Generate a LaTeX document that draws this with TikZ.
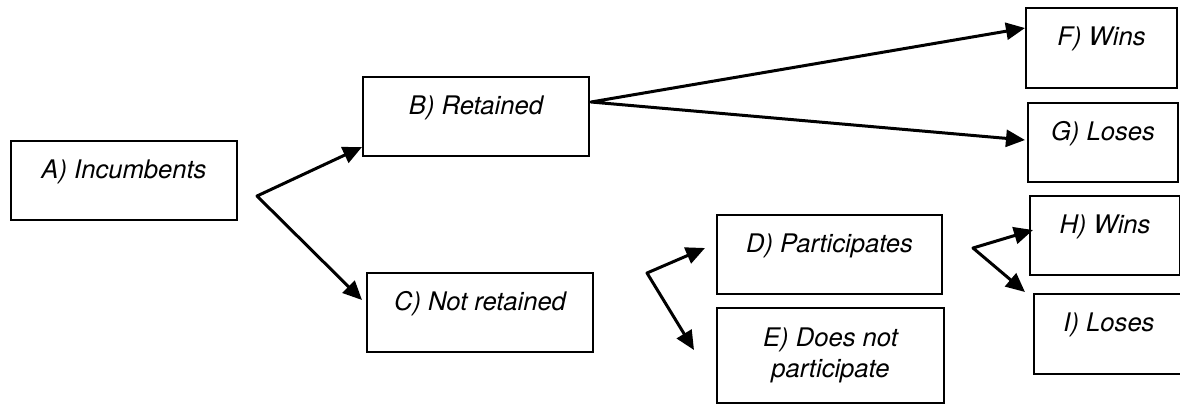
\documentclass[tikz,border=0pt]{standalone}
\usepackage{fontspec}
\setmainfont{TeX Gyre Heros}
\usetikzlibrary{arrows.meta}
\begin{document}
\begin{tikzpicture}[x=0.5pt,y=-0.5pt,
  box/.style={draw=black, line width=1pt, rectangle, inner sep=0pt, anchor=north west,
    font=\fontsize{12.8}{15.5}\selectfont\itshape, text height=18.5pt, text depth=21pt,
    minimum width=113pt},
  fork/.style={line width=1.5pt, line join=round,
    {Triangle[length=9.5pt,width=8.5pt]}-{Triangle[length=9.5pt,width=8.5pt]}}]
\useasboundingbox (0,0) rectangle (1180,404);
% boxes
\node[box] (A) at (10,140) {A) Incumbents};
\node[box] (B) at (362,76) {B) Retained};
\node[box] (C) at (366,272) {C) Not retained};
\node[box, minimum width=112.5pt] (D) at (716,214) {D) Participates};
\node[box, minimum width=113.5pt, text height=19pt, text depth=28.5pt] (E) at (716,307)
  {\begin{tabular}[t]{@{}c@{}}E) Does not\\participate\end{tabular}};
\node[box, minimum width=75.5pt, text depth=21.5pt] (F) at (1025,7) {F) Wins};
\node[box, minimum width=75pt] (G) at (1027,102) {G) Loses};
\node[box, minimum width=75pt] (H) at (1029,195) {H) Wins};
\node[box, minimum width=75pt, text depth=21.5pt] (I) at (1033,293) {I) Loses};
% fork points
\coordinate (ja) at (257,196);
\coordinate (jb) at (591,102);
\coordinate (jc) at (647,273);
\coordinate (jd) at (973,248);
% connectors
\draw[fork] ([shift={(0,-10)}]B.south west) -- (ja) -- ([shift={(-4,28)}]C.north west);
\draw[fork] ([shift={(0,21)}]F.north west) -- (jb) -- ([shift={(-2,38)}]G.north west);
\draw[fork] ([shift={(-11,34)}]D.north west) -- (jc) -- ([shift={(-22,43)}]E.north west);
\draw[fork] ([shift={(4,35)}]H.north west) -- (jd) -- ([shift={(-8,-1)}]I.north west);
\end{tikzpicture}
\end{document}
